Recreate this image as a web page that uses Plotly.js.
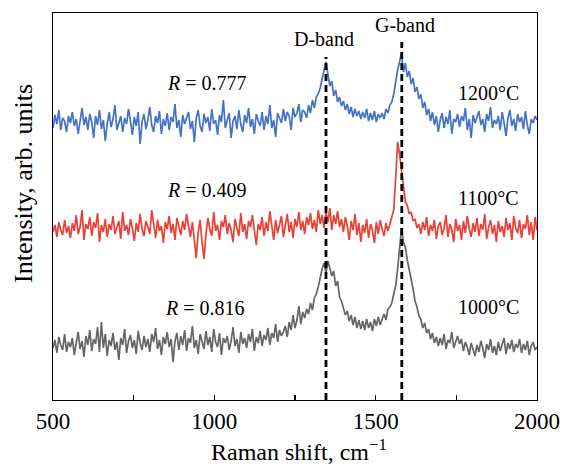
<!DOCTYPE html>
<html>
<head>
<meta charset="utf-8">
<script src="https://cdn.plot.ly/plotly-3.0.1.min.js"></script>
<style>html,body{margin:0;padding:0;background:#fff;}#chart{width:563px;height:466px;}</style>
</head>
<body>
<div id="chart"></div>
<script>
// Raman shift grid: 500 to 2000 cm^-1, 6 cm^-1 step
const shiftStart = 500;
const shiftStep = 6;

// Intensity (arb. units, stacked)
const int1200 = [
  272,285,276,290,270,282,279,268,284,277,
  288,274,281,266,279,292,275,283,270,286,
  278,262,284,275,290,271,280,259,276,288,
  273,281,295,270,277,284,268,282,276,291,
  279,265,283,274,288,256,278,286,271,280,
  293,275,268,284,277,289,266,281,274,287,
  270,283,278,296,272,280,263,285,276,282,
  288,271,279,258,282,290,274,268,286,277,
  283,269,291,276,280,265,285,278,300,272,
  280,287,262,279,284,271,290,276,268,285,
  277,292,273,281,266,286,279,274,288,270,
  284,276,295,272,280,263,287,281,277,291,
  279,288,284,270,292,283,287,296,278,290,
  288,282,295,287,300,292,303,306,312,321,
  330,338,326,314,319,304,310,298,303,294,
  299,290,296,286,293,283,291,284,289,281,
  288,282,291,279,287,280,289,278,286,282,
  287,281,291,287,295,298,306,319,330,338,
  347,328,337,323,329,316,322,308,313,301,
  306,292,298,285,291,279,288,275,284,268,
  280,287,272,283,276,290,266,281,278,286,
  273,284,279,292,270,281,262,285,277,283,
  289,275,281,268,286,279,293,272,280,276,
  284,270,288,277,264,282,290,274,281,269,
  286,278,283,271,289,275,266,281,277,284,
  280
];
const int1100 = [
  168,175,163,178,170,165,180,167,174,162,
  177,169,185,166,173,190,160,176,171,183,
  164,178,172,187,158,175,168,181,163,176,
  170,184,166,173,179,161,188,169,175,165,
  181,172,159,177,168,186,171,164,179,173,
  166,190,175,162,180,169,174,157,178,171,
  184,167,176,160,182,173,165,179,170,186,
  175,163,178,160,142,168,180,157,141,166,
  182,171,164,188,169,175,160,179,173,185,
  166,177,170,158,181,172,164,187,168,176,
  161,179,173,185,167,155,176,170,183,164,
  178,169,189,172,160,180,167,175,184,163,
  174,186,168,178,162,181,173,188,170,179,
  166,183,175,187,171,180,168,190,176,185,
  172,188,178,192,170,185,176,189,173,181,
  168,183,174,160,179,170,186,165,177,158,
  175,167,181,162,176,170,157,178,166,180,
  171,164,177,169,176,182,190,222,258,246,
  230,214,198,195,186,188,179,181,172,176,
  166,178,170,183,164,175,169,180,161,174,
  178,165,172,185,163,176,170,158,181,169,
  175,160,179,167,184,171,163,177,168,182,
  164,176,170,186,161,173,180,166,175,158,
  179,168,174,163,182,170,177,160,184,172,
  167,180,162,176,171,185,165,178,160,183,
  170
];
const int1000 = [
  52,60,47,63,55,50,66,48,58,53,
  62,45,57,68,51,59,43,64,55,70,
  49,61,56,73,48,78,52,66,44,60,
  54,67,50,58,40,62,55,71,47,59,
  65,52,60,46,69,57,50,64,53,61,
  48,66,58,72,51,60,45,63,56,68,
  53,61,38,59,67,50,64,55,70,49,
  62,57,74,52,60,46,66,58,51,69,
  55,63,48,71,58,53,67,45,62,57,
  64,50,59,73,54,61,47,68,56,62,
  52,66,58,71,49,63,57,69,54,65,
  60,72,55,67,62,76,58,70,64,68,
  74,63,78,70,85,72,80,94,76,88,
  82,91,86,97,90,102,106,113,124,131,
  137,127,139,131,124,129,114,119,103,99,
  91,85,89,79,85,75,83,72,80,71,
  79,70,81,72,78,69,81,74,83,75,
  81,86,80,91,93,97,106,114,131,149,
  172,158,153,140,131,121,111,99,93,84,
  81,72,77,67,71,61,67,57,63,54,
  62,55,66,51,60,57,68,52,59,64,
  56,61,49,58,53,45,57,50,44,55,
  48,59,52,42,56,50,61,47,54,45,
  58,49,55,62,46,57,51,60,48,56,
  52,61,47,56,50,59,45,54,58,50,
  53
];

// Band positions (cm^-1) and top of dashed markers
const bandNames = ['D-band', 'G-band'];
const bandShift = [1346, 1581];
const bandTop = [343, 358];

// Labels
const seriesTemps = ['1200°C', '1100°C', '1000°C'];
const seriesR = ['0.777', '0.409', '0.816'];
const seriesColors = ['#4472C4', '#EA4036', '#666666'];

const shifts = int1200.map((_, i) => shiftStart + i * shiftStep);
const seriesData = [int1200, int1100, int1000];

const traces = seriesData.map((ys, k) => ({
  x: shifts, y: ys, type: 'scatter', mode: 'lines',
  line: {color: seriesColors[k], width: 1.7},
  hoverinfo: 'skip', showlegend: false
}));
bandShift.forEach((b, k) => {
  traces.push({
    x: [b, b], y: [0, bandTop[k]], type: 'scatter', mode: 'lines',
    line: {color: '#000', width: 2.8, dash: '7px,4px'},
    hoverinfo: 'skip', showlegend: false
  });
});

const serif = 'Liberation Serif, Times New Roman, serif';
const rPos = [[977, 317], [977, 210], [971, 92]];
const tPos = [[1850, 307], [1850, 202], [1850, 93]];
const bandLabelPos = [[1340, 361], [1591, 375]];

const plotL = 53, plotR = 537, plotT = 13, plotB = 400;
const px2paperX = p => (p - plotL) / (plotR - plotL);
const px2paperY = p => (plotB - p) / (plotB - plotT);

const annotations = [];
seriesR.forEach((r, k) => annotations.push({
  x: rPos[k][0], y: rPos[k][1], xref: 'x', yref: 'y',
  text: '<i>R</i> = ' + r, showarrow: false,
  font: {family: serif, size: 20, color: '#000'}
}));
seriesTemps.forEach((t, k) => annotations.push({
  x: tPos[k][0], y: tPos[k][1], xref: 'x', yref: 'y',
  text: t, showarrow: false,
  font: {family: serif, size: 20, color: '#000'}
}));
bandNames.forEach((n, k) => annotations.push({
  x: bandLabelPos[k][0], y: bandLabelPos[k][1], xref: 'x', yref: 'y',
  text: n, showarrow: false,
  font: {family: serif, size: 20, color: '#000'}
}));
annotations.push({
  x: px2paperX(23), y: px2paperY(184), xref: 'paper', yref: 'paper',
  xanchor: 'center', yanchor: 'middle',
  text: 'Intensity, arb. units', textangle: -90, showarrow: false,
  font: {family: serif, size: 26, color: '#000'}
});
annotations.push({
  x: px2paperX(299), y: px2paperY(467), xref: 'paper', yref: 'paper',
  xanchor: 'center', yanchor: 'bottom',
  text: 'Raman shift, cm<sup>−1</sup>', showarrow: false,
  font: {family: serif, size: 24, color: '#000'}
});

const layout = {
  width: 563, height: 466,
  margin: {l: plotL, r: 563 - plotR, t: plotT, b: 466 - plotB},
  paper_bgcolor: '#fff', plot_bgcolor: '#fff',
  xaxis: {
    range: [500, 2000], showgrid: false, zeroline: false,
    showline: true, mirror: true, linecolor: '#000', linewidth: 1.3,
    ticks: 'inside', ticklen: 5, tickwidth: 1.2, tickcolor: '#000',
    tick0: 500, dtick: 500, ticklabelstandoff: 0,
    minor: {dtick: 250, tick0: 500, ticks: 'inside', ticklen: 5, tickwidth: 1.2, tickcolor: '#000', showgrid: false},
    tickfont: {family: serif, size: 23, color: '#000'}
  },
  yaxis: {
    range: [0, 387], showgrid: false, zeroline: false,
    showline: true, mirror: true, linecolor: '#000', linewidth: 1.3,
    ticks: '', showticklabels: false
  },
  annotations: annotations
};

Plotly.newPlot('chart', traces, layout, {displayModeBar: false, staticPlot: true});
</script>
</body>
</html>
